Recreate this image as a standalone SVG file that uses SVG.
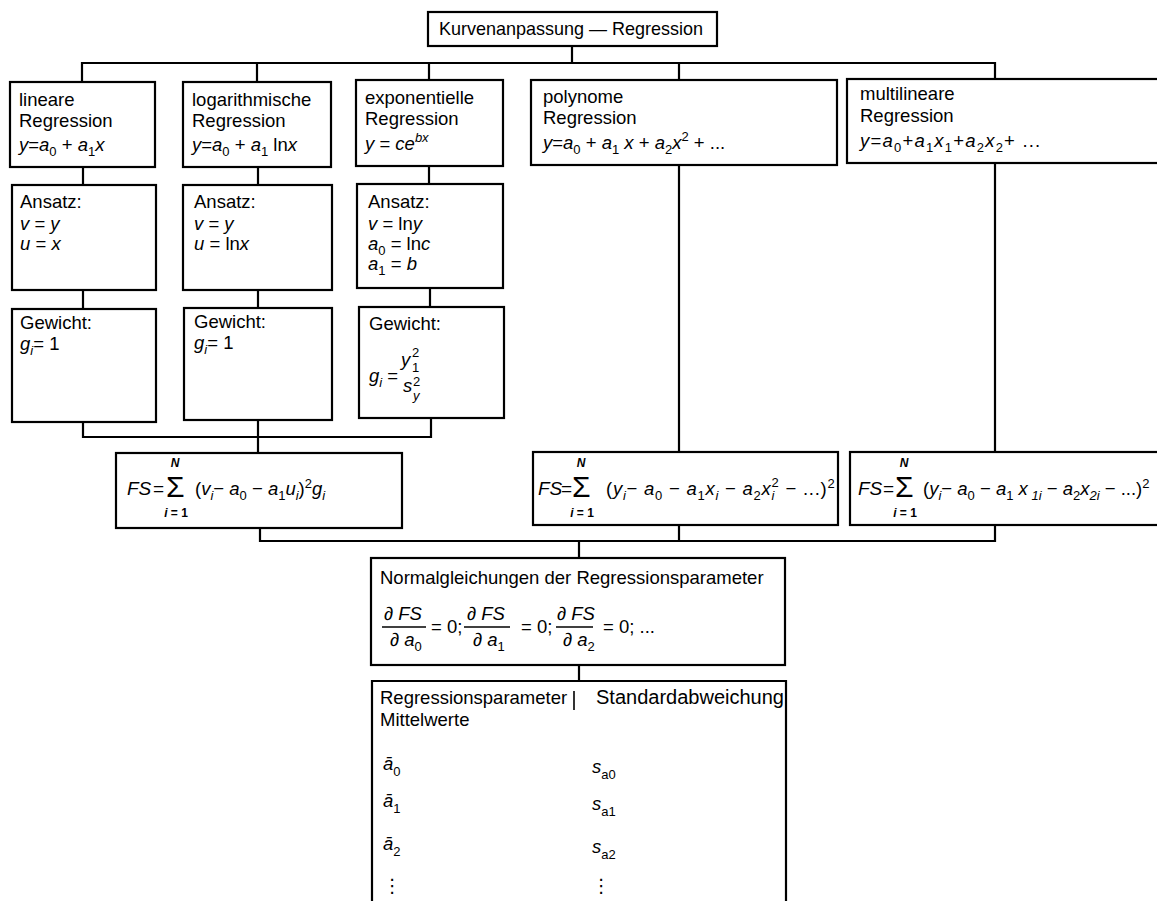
<svg xmlns="http://www.w3.org/2000/svg" width="1157" height="901" viewBox="0 0 1157 901">
<style>
.b{fill:#fff;stroke:#000;stroke-width:2.2}
.c{fill:none;stroke:#000;stroke-width:2.2}
.f{stroke:#000;stroke-width:1.6}
text{font-family:"Liberation Sans",Arial,"DejaVu Sans",sans-serif;font-size:18.5px;fill:#000}
.i{font-style:italic}
.sb{font-size:13px}
.sm{font-size:12px;font-weight:bold}
.sig{font-size:30px}
.fs{font-size:19px}
</style>
<rect width="1157" height="901" fill="#fff"/>
<g id="connectors">
<path class="c" d="M572,46 V63 M82,82 V63 H995 V79 M257,63 V82 M429,63 V80 M679,63 V80"/>
<path class="c" d="M83,167 V185 M258,167 V185 M429,166 V184"/>
<path class="c" d="M83,290 V309 M258,290 V308 M430,288 V307"/>
<path class="c" d="M83,422 V437 H431 V418 M258,420 V453"/>
<path class="c" d="M679,165 V452 M995,163 V452"/>
<path class="c" d="M260,528 V541 H995 V525 M679,525 V541 M579,541 V558 M579,665 V681"/>
</g>
<g id="title">
<rect class="b" x="428" y="12" width="289" height="34"/>
<text x="439" y="35" textLength="264" lengthAdjust="spacingAndGlyphs">Kurvenanpassung — Regression</text>
</g>
<g id="lineare">
<rect class="b" x="10" y="82" width="145" height="85"/>
<text x="19" y="106">lineare</text>
<text x="19" y="127">Regression</text>
<text x="19" y="151"><tspan class="i">y</tspan>=<tspan class="i">a</tspan><tspan class="sb" dy="5">0</tspan><tspan dy="-5"> + </tspan><tspan class="i">a</tspan><tspan class="sb" dy="5">1</tspan><tspan class="i" dy="-5">x</tspan></text>
</g>
<g id="logarithmische">
<rect class="b" x="183" y="82" width="148" height="85"/>
<text x="192" y="106">logarithmische</text>
<text x="192" y="127">Regression</text>
<text x="192" y="151"><tspan class="i">y</tspan>=<tspan class="i">a</tspan><tspan class="sb" dy="5">0</tspan><tspan dy="-5"> + </tspan><tspan class="i">a</tspan><tspan class="sb" dy="5">1</tspan><tspan dy="-5"> ln</tspan><tspan class="i">x</tspan></text>
</g>
<g id="exponentielle">
<rect class="b" x="356" y="80" width="147" height="86"/>
<text x="365" y="104">exponentielle</text>
<text x="365" y="125">Regression</text>
<text x="365" y="150"><tspan class="i">y</tspan> = <tspan class="i">ce</tspan><tspan class="sb i" dy="-8">bx</tspan></text>
</g>
<g id="polynome">
<rect class="b" x="531" y="80" width="306" height="85"/>
<text x="543" y="103">polynome</text>
<text x="543" y="124">Regression</text>
<text x="543" y="149"><tspan class="i">y</tspan>=<tspan class="i">a</tspan><tspan class="sb" dy="5">0</tspan><tspan dy="-5"> + </tspan><tspan class="i">a</tspan><tspan class="sb" dy="5">1</tspan><tspan class="i" dy="-5"> x</tspan><tspan> + </tspan><tspan class="i">a</tspan><tspan class="sb" dy="5">2</tspan><tspan class="i" dy="-5">x</tspan><tspan class="sb" dy="-8">2</tspan><tspan dy="8"> + ...</tspan></text>
</g>
<g id="multilineare">
<rect class="b" x="847" y="79" width="320" height="84"/>
<text x="860" y="100">multilineare</text>
<text x="860" y="122">Regression</text>
<text x="860" y="147" style="letter-spacing:1.2px"><tspan class="i">y</tspan>=<tspan class="i">a</tspan><tspan class="sb" dy="5">0</tspan><tspan dy="-5">+</tspan><tspan class="i">a</tspan><tspan class="sb" dy="5">1</tspan><tspan class="i" dy="-5">x</tspan><tspan class="sb" dy="5">1</tspan><tspan dy="-5">+</tspan><tspan class="i">a</tspan><tspan class="sb" dy="5">2</tspan><tspan class="i" dy="-5">x</tspan><tspan class="sb" dy="5">2</tspan><tspan dy="-5">+ ...</tspan></text>
</g>
<g id="ansatz-lineare">
<rect class="b" x="12" y="185" width="144" height="105"/>
<text x="20" y="208">Ansatz:</text>
<text x="20" y="230"><tspan class="i">v</tspan> = <tspan class="i">y</tspan></text>
<text x="20" y="250"><tspan class="i">u</tspan> = <tspan class="i">x</tspan></text>
</g>
<g id="ansatz-log">
<rect class="b" x="183" y="185" width="149" height="105"/>
<text x="194" y="208">Ansatz:</text>
<text x="194" y="230"><tspan class="i">v</tspan> = <tspan class="i">y</tspan></text>
<text x="194" y="250"><tspan class="i">u</tspan> = ln<tspan class="i">x</tspan></text>
</g>
<g id="ansatz-exp">
<rect class="b" x="357" y="184" width="146" height="104"/>
<text x="368" y="208">Ansatz:</text>
<text x="368" y="230"><tspan class="i">v</tspan> = ln<tspan class="i">y</tspan></text>
<text x="368" y="250"><tspan class="i">a</tspan><tspan class="sb" dy="5">0</tspan><tspan dy="-5"> = ln</tspan><tspan class="i">c</tspan></text>
<text x="368" y="270"><tspan class="i">a</tspan><tspan class="sb" dy="5">1</tspan><tspan dy="-5"> = </tspan><tspan class="i">b</tspan></text>
</g>
<g id="gewicht-lineare">
<rect class="b" x="12" y="309" width="144" height="113"/>
<text x="20" y="329">Gewicht:</text>
<text x="20" y="350"><tspan class="i">g</tspan><tspan class="sb i" dy="5">i</tspan><tspan dy="-5">= 1</tspan></text>
</g>
<g id="gewicht-log">
<rect class="b" x="184" y="308" width="148" height="112"/>
<text x="194" y="328">Gewicht:</text>
<text x="194" y="349"><tspan class="i">g</tspan><tspan class="sb i" dy="5">i</tspan><tspan dy="-5">= 1</tspan></text>
</g>
<g id="gewicht-exp">
<rect class="b" x="359" y="307" width="145" height="111"/>
<text x="369" y="330">Gewicht:</text>
<text x="369" y="382"><tspan class="i">g</tspan><tspan class="sb i" dy="5">i</tspan><tspan dy="-5"> =</tspan><tspan class="i" x="401" y="366">y</tspan><tspan class="sb" x="412" y="357">2</tspan><tspan class="sb" x="412" y="372">1</tspan><tspan class="i" x="403" y="392">s</tspan><tspan class="sb" x="413" y="386">2</tspan><tspan class="sb i" x="413" y="400">y</tspan></text>
</g>
<g id="fs-lin">
<rect class="b" x="116" y="453" width="286" height="75"/>
<text y="495"><tspan class="fs i" x="127">FS</tspan><tspan class="fs" x="153">=</tspan><tspan class="sig" x="166" y="497">Σ</tspan><tspan class="sm i" x="175" y="467" text-anchor="middle">N</tspan><tspan class="sm" x="176" y="517" text-anchor="middle"><tspan class="i">i</tspan> = 1</tspan><tspan x="195" y="495">(</tspan><tspan class="i">v</tspan><tspan class="sb i" dy="5">i</tspan><tspan dy="-5">− </tspan><tspan class="i">a</tspan><tspan class="sb" dy="5">0</tspan><tspan dy="-5"> − </tspan><tspan class="i">a</tspan><tspan class="sb" dy="5">1</tspan><tspan class="i" dy="-5">u</tspan><tspan class="sb i" dy="5">i</tspan><tspan dy="-5">)</tspan><tspan class="sb" dy="-7">2</tspan><tspan class="i" dy="7">g</tspan><tspan class="sb i" dy="5">i</tspan></text>
</g>
<g id="fs-poly">
<rect class="b" x="533" y="452" width="305" height="73"/>
<text y="495"><tspan class="fs i" x="538">FS</tspan><tspan class="fs" x="561">=</tspan><tspan class="sig" x="572" y="497">Σ</tspan><tspan class="sm i" x="581" y="467" text-anchor="middle">N</tspan><tspan class="sm" x="582" y="517" text-anchor="middle"><tspan class="i">i</tspan> = 1</tspan><tspan x="606" y="495" style="letter-spacing:0.75px">(<tspan class="i">y</tspan><tspan class="sb i" dy="5">i</tspan><tspan dy="-5">− </tspan><tspan class="i">a</tspan><tspan class="sb" dy="5">0</tspan><tspan dy="-5"> − </tspan><tspan class="i">a</tspan><tspan class="sb" dy="5">1</tspan><tspan class="i" dy="-5">x</tspan><tspan class="sb i" dy="5">i</tspan><tspan dy="-5"> − </tspan><tspan class="i">a</tspan><tspan class="sb" dy="5">2</tspan><tspan class="i" dy="-5">x</tspan><tspan class="sb i" dy="5">i</tspan><tspan class="sb" dx="-3.5" dy="-13">2</tspan><tspan dy="8"> − ...)</tspan><tspan class="sb" dy="-7">2</tspan></tspan></text>
</g>
<g id="fs-multi">
<rect class="b" x="850" y="452" width="320" height="73"/>
<text y="495"><tspan class="fs i" x="858">FS</tspan><tspan class="fs" x="883">=</tspan><tspan class="sig" x="895" y="497">Σ</tspan><tspan class="sm i" x="904" y="467" text-anchor="middle">N</tspan><tspan class="sm" x="905" y="517" text-anchor="middle"><tspan class="i">i</tspan> = 1</tspan><tspan x="923" y="495">(</tspan><tspan class="i">y</tspan><tspan class="sb i" dy="5">i</tspan><tspan dy="-5">− </tspan><tspan class="i">a</tspan><tspan class="sb" dy="5">0</tspan><tspan dy="-5"> − </tspan><tspan class="i">a</tspan><tspan class="sb" dy="5">1</tspan><tspan class="i" dy="-5"> x</tspan><tspan class="sb i" dy="5"> 1i</tspan><tspan dy="-5"> − </tspan><tspan class="i">a</tspan><tspan class="sb" dy="5">2</tspan><tspan class="i" dy="-5">x</tspan><tspan class="sb i" dy="5">2i</tspan><tspan dy="-5"> − ...)</tspan><tspan class="sb" dy="-7">2</tspan></text>
</g>
<g id="normalgleichungen">
<rect class="b" x="371" y="558" width="414" height="107"/>
<text x="380" y="584">Normalgleichungen der Regressionsparameter</text>
<line class="f" x1="382" y1="627" x2="426" y2="627"/>
<line class="f" x1="464" y1="627" x2="510" y2="627"/>
<line class="f" x1="556" y1="627" x2="593" y2="627"/>
<text y="620"><tspan x="384">∂ <tspan class="i">FS</tspan></tspan><tspan x="390" y="646">∂ <tspan class="i">a</tspan><tspan class="sb" dy="5">0</tspan></tspan><tspan x="431" y="633">= 0;</tspan><tspan x="467" y="620">∂ <tspan class="i">FS</tspan></tspan><tspan x="473" y="646">∂ <tspan class="i">a</tspan><tspan class="sb" dy="5">1</tspan></tspan><tspan x="521" y="633">= 0;</tspan><tspan x="557" y="620">∂ <tspan class="i">FS</tspan></tspan><tspan x="563" y="646">∂ <tspan class="i">a</tspan><tspan class="sb" dy="5">2</tspan></tspan><tspan x="603" y="633">= 0; ...</tspan></text>
</g>
<g id="tabelle">
<path class="b" d="M372,903 V681 H786 V903"/>
<text x="380" y="704">Regressionsparameter</text>
<line class="f" x1="574" y1="691" x2="574" y2="710"/>
<text x="596" y="704" style="font-size:19.5px" textLength="188" lengthAdjust="spacingAndGlyphs">Standardabweichung</text>
<text x="380" y="726">Mittelwerte</text>
<text x="383" y="770"><tspan class="i">ā</tspan><tspan class="sb" dy="6">0</tspan></text>
<text x="383" y="807"><tspan class="i">ā</tspan><tspan class="sb" dy="6">1</tspan></text>
<text x="383" y="850"><tspan class="i">ā</tspan><tspan class="sb" dy="6">2</tspan></text>
<text x="383" y="892">⋮</text>
<text x="592" y="773"><tspan class="i">s</tspan><tspan class="sb" dy="6">a0</tspan></text>
<text x="592" y="810"><tspan class="i">s</tspan><tspan class="sb" dy="6">a1</tspan></text>
<text x="592" y="853"><tspan class="i">s</tspan><tspan class="sb" dy="6">a2</tspan></text>
<text x="592" y="892">⋮</text>
</g>
</svg>
